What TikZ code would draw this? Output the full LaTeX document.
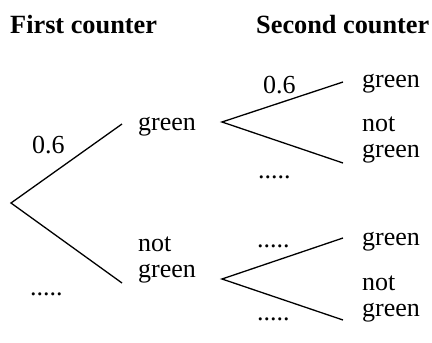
\documentclass[tikz,border=0pt]{standalone}
\usepackage{fontspec}
\setmainfont{Liberation Serif}
\begin{document}
\begin{tikzpicture}[x=1pt,y=-1pt,
  lbl/.style={anchor=base west,inner sep=0pt,font=\fontsize{26}{25.5}\selectfont,align=left},
  ttl/.style={anchor=base west,inner sep=0pt,font=\fontsize{26.3}{28}\selectfont\bfseries},
  branch/.style={line width=1.3pt}]
\useasboundingbox (0,0) rectangle (432,343);
\node[ttl] (t1) at (10,33) {First counter};
\node[ttl] (t2) at (256,33) {Second counter};
% branch points
\coordinate (r) at (11,203);
\coordinate (a1) at (122,124);
\coordinate (a2) at (122,283);
\coordinate (b) at (222,122);
\coordinate (b1) at (343,82);
\coordinate (b2) at (343,163);
\coordinate (c) at (222,279);
\coordinate (c1) at (343,238);
\coordinate (c2) at (343,320);
\draw[branch] (a1) -- (r) -- (a2);
\draw[branch] (b1) -- (b) -- (b2);
\draw[branch] (c1) -- (c) -- (c2);
% labels
\node[lbl] (g1) at (138,130) {green};
\node[lbl] (n1) at (138,277) {not\\green};
\node[lbl] (p1) at (32,153) {0.6};
\node[lbl] (d1) at (30,295) {.....};
\node[lbl] (g2) at (362,87) {green};
\node[lbl] (n2) at (362,157) {not\\green};
\node[lbl] (p2) at (263,93) {0.6};
\node[lbl] (d2) at (258,178) {.....};
\node[lbl] (g3) at (362,245) {green};
\node[lbl] (n3) at (362,316) {not\\green};
\node[lbl] (d3) at (257,247) {.....};
\node[lbl] (d4) at (257,320) {.....};
\end{tikzpicture}
\end{document}
